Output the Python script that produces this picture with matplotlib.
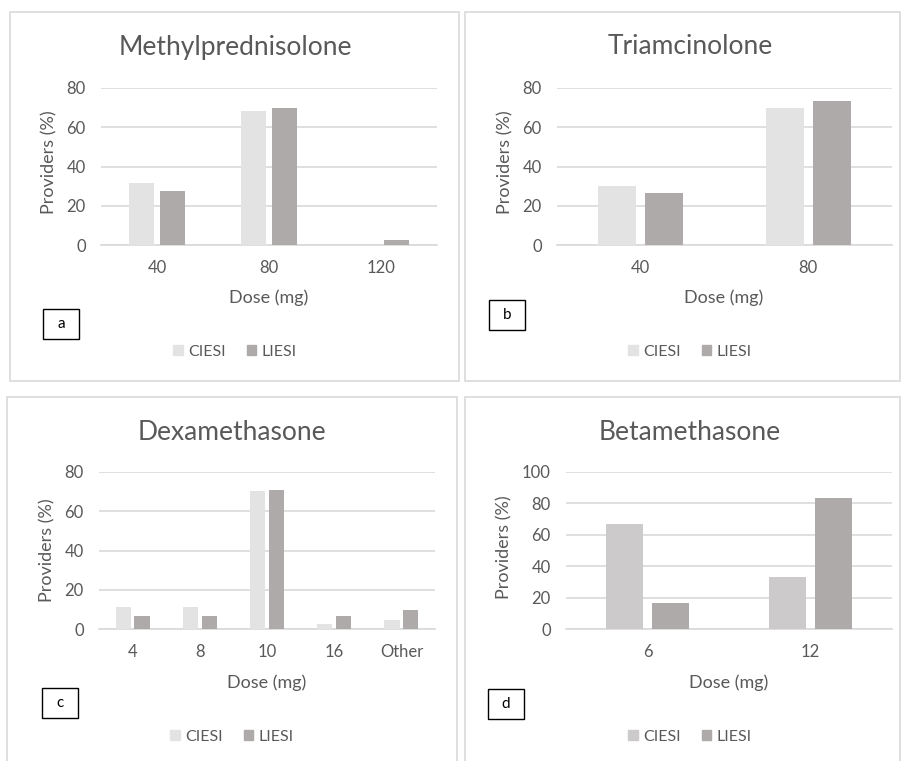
import matplotlib.pyplot as plt
import numpy as np
from matplotlib.patches import Rectangle, Patch

W, H = 901, 761

# data
methyl_doses = ["40", "80", "120"]
methyl_ciesi = [31.7, 68.3, 0]
methyl_liesi = [27.5, 70.0, 2.5]

triam_doses = ["40", "80"]
triam_ciesi = [30.0, 70.0]
triam_liesi = [26.7, 73.3]

dexa_doses = ["4", "8", "10", "16", "Other"]
dexa_ciesi = [11.4, 11.4, 70.5, 2.3, 4.5]
dexa_liesi = [6.5, 6.5, 71.0, 6.5, 9.7]

beta_doses = ["6", "12"]
beta_ciesi = [66.7, 33.3]
beta_liesi = [16.7, 83.3]

TXT = "#595959"
GRID = "#d9d9d9"
LIESI_COL = "#aeaaaa"

plt.rcParams['font.family'] = ['Lato', 'DejaVu Sans']

fig = plt.figure(figsize=(W / 100, H / 100), dpi=100)


def fx(x):
    return x / W


def fy(y):
    return 1 - y / H


def panel(box, axbox, title, title_xy, cats, ciesi, liesi, ymax, xlab_xy,
          ylab_xy, letter_box, letter, leg_xy, ciesi_col):
    # panel border
    x0, y0, x1, y1 = box
    fig.patches.append(Rectangle((fx(x0), fy(y1)), (x1 - x0) / W, (y1 - y0) / H,
                                 transform=fig.transFigure, fill=False,
                                 edgecolor=GRID, linewidth=1.2))
    l, t, r, b = axbox
    ax = fig.add_axes([fx(l), fy(b), (r - l) / W, (b - t) / H])
    x = np.arange(len(cats))
    ax.bar(x - 0.14, ciesi, 0.225, color=ciesi_col, zorder=3)
    ax.bar(x + 0.14, liesi, 0.225, color=LIESI_COL, zorder=3)
    ax.set_xlim(-0.5, len(cats) - 0.5)
    ax.set_ylim(0, ymax)
    ax.set_yticks(np.arange(0, ymax + 1, 20))
    ax.set_xticks(x)
    ax.set_xticklabels(cats)
    ax.yaxis.grid(True, color=GRID, linewidth=1.2, zorder=0)
    for s in ["top", "right", "left"]:
        ax.spines[s].set_visible(False)
    ax.spines["bottom"].set_color(GRID)
    ax.spines["bottom"].set_linewidth(1.2)
    ax.tick_params(length=0, labelsize=12, labelcolor=TXT)
    ax.tick_params(axis="y", pad=11)
    ax.tick_params(axis="x", pad=11)
    fig.text(fx(ylab_xy[0]), fy(ylab_xy[1]), "Providers (%)", fontsize=13,
             color=TXT, rotation=90, ha="center", va="center")
    fig.text(fx(title_xy[0]), fy(title_xy[1]), title, fontsize=19, color=TXT,
             ha="center", va="center")
    fig.text(fx(xlab_xy[0]), fy(xlab_xy[1]), "Dose (mg)", fontsize=13, color=TXT,
             ha="center", va="center")
    # letter box
    bx0, by0, bx1, by1 = letter_box
    fig.patches.append(Rectangle((fx(bx0), fy(by1)), (bx1 - bx0) / W, (by1 - by0) / H,
                                 transform=fig.transFigure, fill=False,
                                 edgecolor="black", linewidth=1.0))
    fig.text(fx((bx0 + bx1) / 2), fy((by0 + by1) / 2), letter, fontsize=11,
             color="black", ha="center", va="center")
    handles = [Patch(color=ciesi_col, label="CIESI"),
               Patch(color=LIESI_COL, label="LIESI")]
    fig.legend(handles=handles, loc="center", ncol=2, frameon=False,
               bbox_to_anchor=(fx(leg_xy[0]), fy(leg_xy[1])),
               handlelength=0.6, handleheight=0.6, handletextpad=0.35,
               columnspacing=1.3, labelcolor=TXT, fontsize=11.5)
    return ax


panel((10, 12, 459, 381), (101, 88, 437, 245), "Methylprednisolone", (235, 47),
      methyl_doses, methyl_ciesi, methyl_liesi, 80, (269, 298), (49, 162),
      (43, 309, 79, 339), "a", (235, 352), "#e4e3e3")

panel((465, 12, 900, 381), (557, 88, 892, 245), "Triamcinolone", (690, 47),
      triam_doses, triam_ciesi, triam_liesi, 80, (724, 298), (505, 162),
      (489, 300, 525, 330), "b", (690, 352), "#e4e3e3")

panel((7, 397, 457, 780), (99, 472, 435, 629), "Dexamethasone", (232, 432),
      dexa_doses, dexa_ciesi, dexa_liesi, 80, (267, 683), (47, 550),
      (42, 688, 78, 718), "c", (232, 737), "#e4e3e3")

panel((465, 397, 900, 780), (566, 472, 892, 629), "Betamethasone", (690, 432),
      beta_doses, beta_ciesi, beta_liesi, 100, (729, 683), (504, 547),
      (488, 689, 524, 719), "d", (690, 737), "#cccaca")

fig.savefig("out.png", dpi=100)
